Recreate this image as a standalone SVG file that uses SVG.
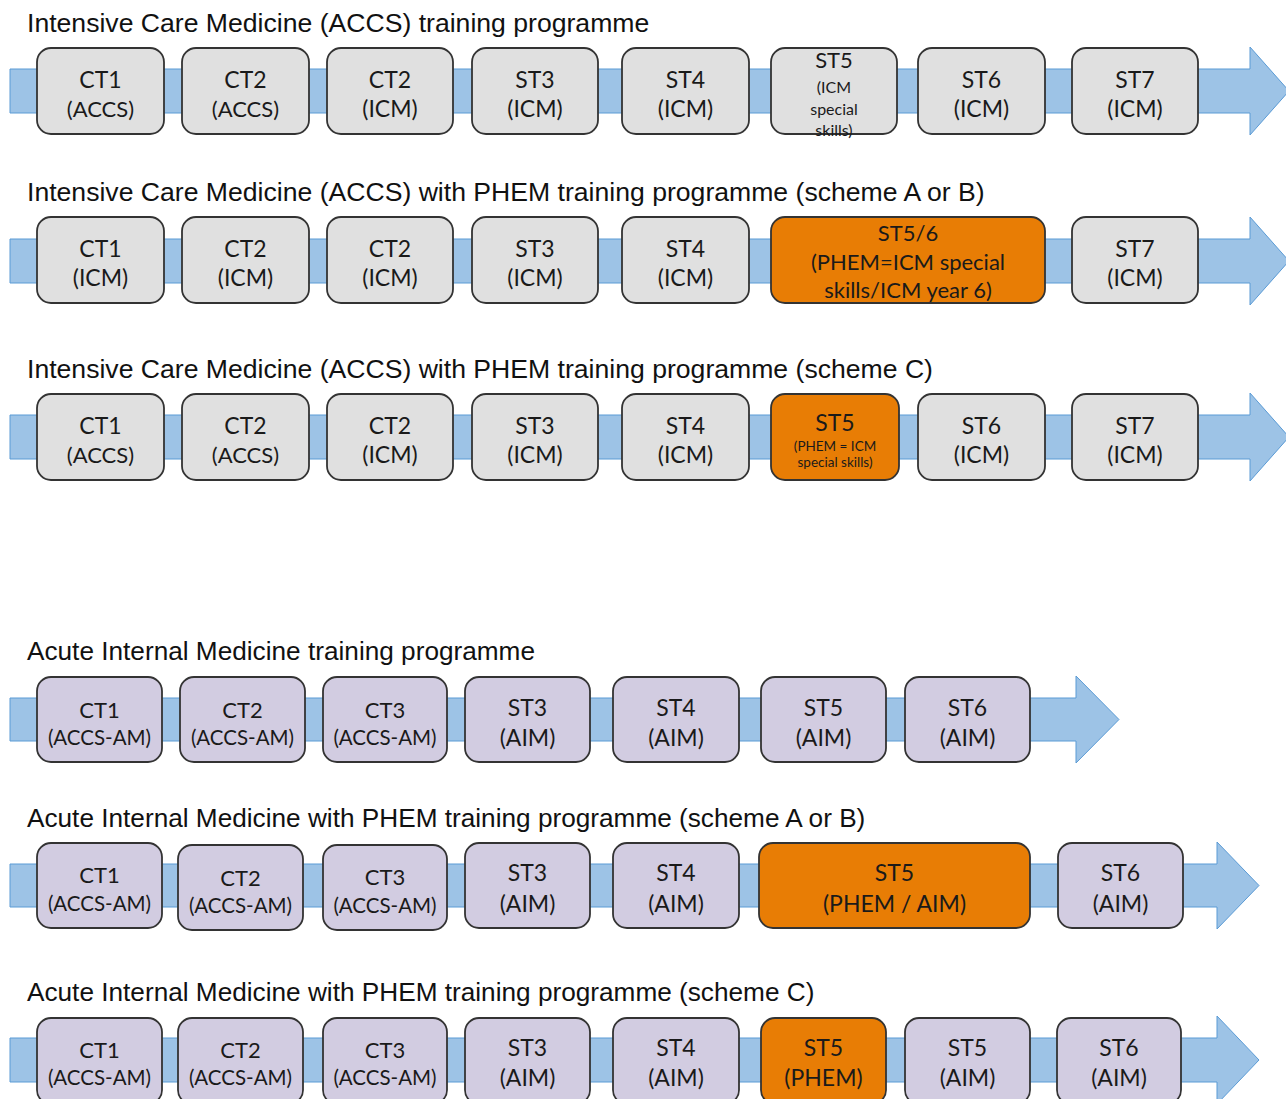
<svg xmlns="http://www.w3.org/2000/svg" width="1286" height="1099" viewBox="0 0 1286 1099">
<style>
.band{fill:#9dc3e6;stroke:#5b9bd5;stroke-width:1}
.box{stroke:#333;stroke-width:1.8}
.g{fill:#e0e0e0}
.l{fill:#d2cce1}
.o{fill:#e87d05}
.t{font-family:Lato,"Open Sans",sans-serif;font-size:23px;text-anchor:middle;fill:#1a1a1a}
.a{font-size:20.5px}
.m{font-size:22px}
.s{font-size:16px}
.xs{font-size:13.5px}
.title{font-family:"Liberation Sans",Arial,sans-serif;font-size:26.6px;fill:#111}
.title2{font-size:26.2px}
</style>
<rect width="1286" height="1099" fill="#fff"/>
<g id="titles">
<text class="title" x="27" y="32">Intensive Care Medicine (ACCS) training programme</text>
<text class="title" x="27" y="201">Intensive Care Medicine (ACCS) with PHEM training programme (scheme A or B)</text>
<text class="title" x="27" y="378">Intensive Care Medicine (ACCS) with PHEM training programme (scheme C)</text>
<text class="title title2" x="27" y="660">Acute Internal Medicine training programme</text>
<text class="title title2" x="27" y="827">Acute Internal Medicine with PHEM training programme (scheme A or B)</text>
<text class="title title2" x="27" y="1001">Acute Internal Medicine with PHEM training programme (scheme C)</text>
</g>
<g id="connectors">
<polygon class="band" points="10,69 1250,69 1250,47 1289,91 1250,135 1250,113 10,113"/>
<polygon class="band" points="10,239 1250,239 1250,217 1289,261 1250,305 1250,283 10,283"/>
<polygon class="band" points="10,415 1250,415 1250,393 1289,437 1250,481 1250,459 10,459"/>
<polygon class="band" points="10,698 1076,698 1076,676 1119,719.5 1076,763 1076,741 10,741"/>
<polygon class="band" points="10,864 1217,864 1217,842 1259,885.5 1217,929 1217,907 10,907"/>
<polygon class="band" points="10,1038 1217,1038 1217,1016 1259,1060 1217,1104 1217,1082 10,1082"/>
</g>
<!-- Row 1 -->
<g id="r1-ct1"><rect class="box g" x="37" y="48" width="127" height="86" rx="14"/><text class="t" x="100.5" y="88">CT1</text><text class="t m" x="100.5" y="117">(ACCS)</text></g>
<g id="r1-ct2"><rect class="box g" x="182" y="48" width="127" height="86" rx="14"/><text class="t" x="245.5" y="88">CT2</text><text class="t m" x="245.5" y="117">(ACCS)</text></g>
<g id="r1-ct2b"><rect class="box g" x="327" y="48" width="126" height="86" rx="14"/><text class="t" x="390" y="88">CT2</text><text class="t" x="390" y="117">(ICM)</text></g>
<g id="r1-st3"><rect class="box g" x="472" y="48" width="126" height="86" rx="14"/><text class="t" x="535" y="88">ST3</text><text class="t" x="535" y="117">(ICM)</text></g>
<g id="r1-st4"><rect class="box g" x="622" y="48" width="127" height="86" rx="14"/><text class="t" x="685.5" y="88">ST4</text><text class="t" x="685.5" y="117">(ICM)</text></g>
<g id="r1-st5"><rect class="box g" x="771" y="48" width="126" height="86" rx="14"/><text class="t m" x="834" y="68">ST5</text><text class="t s" x="834" y="93">(ICM</text><text class="t s" x="834" y="115">special</text><text class="t s" x="834" y="136">skills)</text></g>
<g id="r1-st6"><rect class="box g" x="918" y="48" width="127" height="86" rx="14"/><text class="t" x="981.5" y="88">ST6</text><text class="t" x="981.5" y="117">(ICM)</text></g>
<g id="r1-st7"><rect class="box g" x="1072" y="48" width="126" height="86" rx="14"/><text class="t" x="1135" y="88">ST7</text><text class="t" x="1135" y="117">(ICM)</text></g>
<!-- Row 2 -->
<g id="r2-ct1"><rect class="box g" x="37" y="217" width="127" height="86" rx="14"/><text class="t" x="100.5" y="257">CT1</text><text class="t" x="100.5" y="286">(ICM)</text></g>
<g id="r2-ct2"><rect class="box g" x="182" y="217" width="127" height="86" rx="14"/><text class="t" x="245.5" y="257">CT2</text><text class="t" x="245.5" y="286">(ICM)</text></g>
<g id="r2-ct2b"><rect class="box g" x="327" y="217" width="126" height="86" rx="14"/><text class="t" x="390" y="257">CT2</text><text class="t" x="390" y="286">(ICM)</text></g>
<g id="r2-st3"><rect class="box g" x="472" y="217" width="126" height="86" rx="14"/><text class="t" x="535" y="257">ST3</text><text class="t" x="535" y="286">(ICM)</text></g>
<g id="r2-st4"><rect class="box g" x="622" y="217" width="127" height="86" rx="14"/><text class="t" x="685.5" y="257">ST4</text><text class="t" x="685.5" y="286">(ICM)</text></g>
<g id="r2-st56"><rect class="box o" x="771" y="217" width="274" height="86" rx="14"/><text class="t m" x="908" y="241">ST5/6</text><text class="t m" x="908" y="270">(PHEM=ICM special</text><text class="t m" x="908" y="298">skills/ICM year 6)</text></g>
<g id="r2-st7"><rect class="box g" x="1072" y="217" width="126" height="86" rx="14"/><text class="t" x="1135" y="257">ST7</text><text class="t" x="1135" y="286">(ICM)</text></g>
<!-- Row 3 -->
<g id="r3-ct1"><rect class="box g" x="37" y="394" width="127" height="86" rx="14"/><text class="t" x="100.5" y="434">CT1</text><text class="t m" x="100.5" y="463">(ACCS)</text></g>
<g id="r3-ct2"><rect class="box g" x="182" y="394" width="127" height="86" rx="14"/><text class="t" x="245.5" y="434">CT2</text><text class="t m" x="245.5" y="463">(ACCS)</text></g>
<g id="r3-ct2b"><rect class="box g" x="327" y="394" width="126" height="86" rx="14"/><text class="t" x="390" y="434">CT2</text><text class="t" x="390" y="463">(ICM)</text></g>
<g id="r3-st3"><rect class="box g" x="472" y="394" width="126" height="86" rx="14"/><text class="t" x="535" y="434">ST3</text><text class="t" x="535" y="463">(ICM)</text></g>
<g id="r3-st4"><rect class="box g" x="622" y="394" width="127" height="86" rx="14"/><text class="t" x="685.5" y="434">ST4</text><text class="t" x="685.5" y="463">(ICM)</text></g>
<g id="r3-st5"><rect class="box o" x="771" y="394" width="128" height="86" rx="14"/><text class="t" x="835" y="431">ST5</text><text class="t xs" x="835" y="451">(PHEM = ICM</text><text class="t xs" x="835" y="467">special skills)</text></g>
<g id="r3-st6"><rect class="box g" x="918" y="394" width="127" height="86" rx="14"/><text class="t" x="981.5" y="434">ST6</text><text class="t" x="981.5" y="463">(ICM)</text></g>
<g id="r3-st7"><rect class="box g" x="1072" y="394" width="126" height="86" rx="14"/><text class="t" x="1135" y="434">ST7</text><text class="t" x="1135" y="463">(ICM)</text></g>
<!-- Row 4 -->
<g id="r4-ct1"><rect class="box l" x="37" y="677" width="125" height="85" rx="14"/><text class="t m" x="99.5" y="718">CT1</text><text class="t a" x="99.5" y="745">(ACCS-AM)</text></g>
<g id="r4-ct2"><rect class="box l" x="180" y="677" width="125" height="85" rx="14"/><text class="t m" x="242.5" y="718">CT2</text><text class="t a" x="242.5" y="745">(ACCS-AM)</text></g>
<g id="r4-ct3"><rect class="box l" x="323" y="677" width="124" height="85" rx="14"/><text class="t m" x="385" y="718">CT3</text><text class="t a" x="385" y="745">(ACCS-AM)</text></g>
<g id="r4-st3"><rect class="box l" x="465" y="677" width="125" height="85" rx="14"/><text class="t" x="527.5" y="716">ST3</text><text class="t" x="527.5" y="746">(AIM)</text></g>
<g id="r4-st4"><rect class="box l" x="613" y="677" width="126" height="85" rx="14"/><text class="t" x="676" y="716">ST4</text><text class="t" x="676" y="746">(AIM)</text></g>
<g id="r4-st5"><rect class="box l" x="761" y="677" width="125" height="85" rx="14"/><text class="t" x="823.5" y="716">ST5</text><text class="t" x="823.5" y="746">(AIM)</text></g>
<g id="r4-st6"><rect class="box l" x="905" y="677" width="125" height="85" rx="14"/><text class="t" x="967.5" y="716">ST6</text><text class="t" x="967.5" y="746">(AIM)</text></g>
<!-- Row 5 -->
<g id="r5-ct1"><rect class="box l" x="37" y="843" width="125" height="85" rx="14"/><text class="t m" x="99.5" y="883">CT1</text><text class="t a" x="99.5" y="911">(ACCS-AM)</text></g>
<g id="r5-ct2"><rect class="box l" x="178" y="845" width="125" height="85" rx="14"/><text class="t m" x="240.5" y="886">CT2</text><text class="t a" x="240.5" y="913">(ACCS-AM)</text></g>
<g id="r5-ct3"><rect class="box l" x="323" y="845" width="124" height="85" rx="14"/><text class="t m" x="385" y="885">CT3</text><text class="t a" x="385" y="913">(ACCS-AM)</text></g>
<g id="r5-st3"><rect class="box l" x="465" y="843" width="125" height="85" rx="14"/><text class="t" x="527.5" y="881">ST3</text><text class="t" x="527.5" y="912">(AIM)</text></g>
<g id="r5-st4"><rect class="box l" x="613" y="843" width="126" height="85" rx="14"/><text class="t" x="676" y="881">ST4</text><text class="t" x="676" y="912">(AIM)</text></g>
<g id="r5-st5"><rect class="box o" x="759" y="843" width="271" height="85" rx="14"/><text class="t" x="894.5" y="881">ST5</text><text class="t" x="894.5" y="912">(PHEM / AIM)</text></g>
<g id="r5-st6"><rect class="box l" x="1058" y="843" width="125" height="85" rx="14"/><text class="t" x="1120.5" y="881">ST6</text><text class="t" x="1120.5" y="912">(AIM)</text></g>
<!-- Row 6 -->
<g id="r6-ct1"><rect class="box l" x="37" y="1018" width="125" height="86" rx="14"/><text class="t m" x="99.5" y="1058">CT1</text><text class="t a" x="99.5" y="1085">(ACCS-AM)</text></g>
<g id="r6-ct2"><rect class="box l" x="178" y="1018" width="125" height="86" rx="14"/><text class="t m" x="240.5" y="1058">CT2</text><text class="t a" x="240.5" y="1085">(ACCS-AM)</text></g>
<g id="r6-ct3"><rect class="box l" x="323" y="1018" width="124" height="86" rx="14"/><text class="t m" x="385" y="1058">CT3</text><text class="t a" x="385" y="1085">(ACCS-AM)</text></g>
<g id="r6-st3"><rect class="box l" x="465" y="1018" width="125" height="86" rx="14"/><text class="t" x="527.5" y="1056">ST3</text><text class="t" x="527.5" y="1086">(AIM)</text></g>
<g id="r6-st4"><rect class="box l" x="613" y="1018" width="126" height="86" rx="14"/><text class="t" x="676" y="1056">ST4</text><text class="t" x="676" y="1086">(AIM)</text></g>
<g id="r6-st5p"><rect class="box o" x="761" y="1018" width="125" height="86" rx="14"/><text class="t" x="823.5" y="1056">ST5</text><text class="t" x="823.5" y="1086">(PHEM)</text></g>
<g id="r6-st5"><rect class="box l" x="905" y="1018" width="125" height="86" rx="14"/><text class="t" x="967.5" y="1056">ST5</text><text class="t" x="967.5" y="1086">(AIM)</text></g>
<g id="r6-st6"><rect class="box l" x="1057" y="1018" width="124" height="86" rx="14"/><text class="t" x="1119" y="1056">ST6</text><text class="t" x="1119" y="1086">(AIM)</text></g>
</svg>
